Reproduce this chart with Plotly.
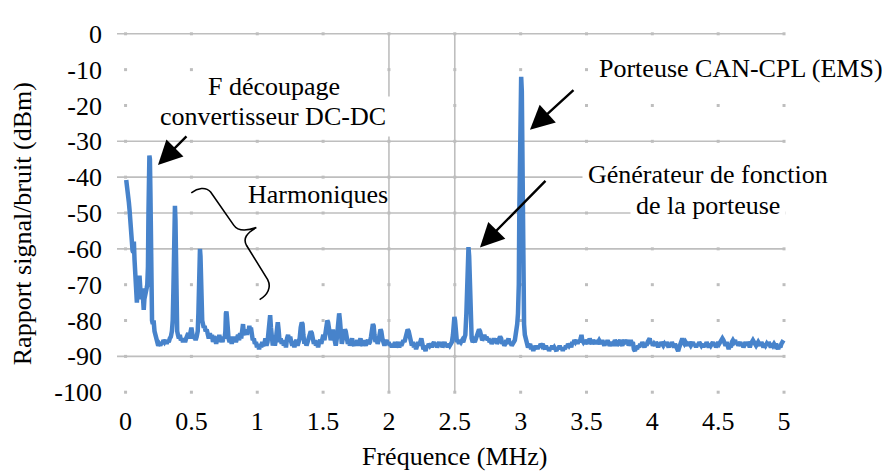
import plotly.graph_objects as go

# ---------------- data ----------------
# Spectrum: (frequency MHz, level dBm)
BAND_0_TO_1 = [
    (0.005, -40.8), (0.012, -42.5), (0.018, -45), (0.025, -47), (0.03, -49), (0.036, -53),
    (0.043, -58), (0.048, -57), (0.053, -60.5), (0.058, -61), (0.063, -58), (0.068, -63),
    (0.075, -68), (0.081, -70), (0.086, -75), (0.091, -71), (0.096, -68), (0.101, -70),
    (0.106, -67.5), (0.112, -72), (0.117, -74), (0.123, -73), (0.128, -71), (0.133, -74),
    (0.138, -77), (0.143, -74), (0.149, -72), (0.155, -72.5), (0.16, -71), (0.165, -70),
    (0.17, -65), (0.174, -50), (0.177, -36), (0.181, -34), (0.185, -35), (0.189, -45),
    (0.193, -62), (0.197, -75), (0.201, -80), (0.207, -81), (0.213, -80), (0.22, -83),
    (0.227, -84), (0.233, -85.5), (0.24, -86.5), (0.248, -87), (0.256, -86.5), (0.264, -87),
    (0.272, -86), (0.28, -86.5), (0.288, -85.5), (0.296, -86), (0.304, -85.5), (0.312, -86.5),
    (0.32, -85.5), (0.328, -86), (0.336, -85), (0.344, -84.5), (0.352, -83), (0.358, -80),
    (0.363, -72), (0.367, -58), (0.371, -49), (0.375, -48), (0.379, -52), (0.383, -66),
    (0.387, -78), (0.392, -83), (0.398, -84), (0.405, -85), (0.412, -84), (0.42, -85.5),
    (0.428, -85), (0.436, -86), (0.444, -85), (0.452, -86), (0.46, -85), (0.468, -84),
    (0.476, -83.5), (0.484, -85), (0.492, -83.5), (0.5, -82), (0.508, -84), (0.516, -85),
    (0.524, -84.5), (0.532, -85.5), (0.54, -84.5), (0.548, -83), (0.553, -78), (0.557, -68),
    (0.561, -61), (0.565, -60), (0.569, -62), (0.573, -70), (0.577, -78), (0.582, -80),
    (0.588, -81), (0.594, -82), (0.6, -81.5), (0.608, -83), (0.616, -82.5), (0.624, -84),
    (0.632, -85), (0.64, -83.5), (0.648, -85), (0.656, -84), (0.664, -86), (0.672, -84.5),
    (0.68, -85), (0.688, -86.5), (0.696, -84.5), (0.704, -85.5), (0.712, -84), (0.72, -86),
    (0.728, -85), (0.736, -86), (0.744, -84.5), (0.752, -85), (0.758, -83), (0.762, -78),
    (0.766, -77.5), (0.77, -79), (0.775, -84), (0.782, -85), (0.79, -86), (0.798, -84.5),
    (0.806, -86.5), (0.814, -85), (0.822, -86), (0.83, -84.5), (0.838, -86), (0.846, -85),
    (0.854, -84), (0.862, -85.5), (0.87, -83.5), (0.878, -85), (0.886, -82), (0.892, -81),
    (0.898, -83.5), (0.906, -84), (0.914, -82.5), (0.922, -84), (0.928, -82.5), (0.934, -83),
    (0.94, -81.5), (0.946, -83), (0.952, -82), (0.958, -84.5), (0.966, -85.5), (0.974, -85),
    (0.982, -86.5), (0.99, -86), (0.998, -87.5),
]

BAND_1_TO_2_5 = [
    (1.006, -86.5), (1.014, -88), (1.022, -86.5), (1.03, -87.5), (1.038, -86), (1.046, -87),
    (1.054, -86.5), (1.062, -85), (1.07, -87), (1.078, -86), (1.086, -83), (1.092, -78.5),
    (1.098, -78.5), (1.104, -82), (1.11, -86), (1.118, -87), (1.126, -85.5), (1.134, -87),
    (1.142, -85), (1.15, -81), (1.156, -80.5), (1.162, -82.5), (1.17, -86), (1.178, -85),
    (1.186, -86.5), (1.194, -85.5), (1.202, -87), (1.21, -86), (1.218, -87.5), (1.226, -85),
    (1.234, -84), (1.242, -85.5), (1.25, -84.5), (1.258, -86), (1.266, -87), (1.274, -86),
    (1.282, -87.5), (1.29, -86), (1.298, -85.5), (1.306, -87), (1.314, -86), (1.322, -85),
    (1.33, -82), (1.338, -80.5), (1.344, -81), (1.35, -84), (1.358, -86.5), (1.366, -85.5),
    (1.374, -87), (1.382, -86), (1.39, -85), (1.398, -84), (1.406, -83), (1.414, -83.5),
    (1.422, -85), (1.43, -86.5), (1.438, -85.5), (1.446, -87), (1.454, -86), (1.462, -87.5),
    (1.47, -86), (1.478, -85.5), (1.486, -86.5), (1.494, -85), (1.502, -84), (1.51, -85.5),
    (1.518, -83), (1.526, -81), (1.532, -80), (1.538, -80.5), (1.544, -82), (1.55, -84.5),
    (1.558, -85.5), (1.566, -84), (1.574, -82.5), (1.58, -84), (1.588, -86), (1.596, -87),
    (1.604, -85), (1.61, -82), (1.616, -78.5), (1.622, -78), (1.628, -80), (1.634, -84),
    (1.642, -86.5), (1.65, -85), (1.658, -84), (1.666, -82.5), (1.672, -83), (1.68, -85),
    (1.688, -86.5), (1.696, -85.5), (1.704, -87), (1.712, -86), (1.72, -85), (1.728, -86.5),
    (1.736, -87), (1.744, -86), (1.752, -86.5), (1.76, -85.5), (1.768, -87), (1.776, -86),
    (1.784, -85), (1.792, -86.5), (1.8, -87), (1.808, -85.5), (1.816, -86), (1.824, -87),
    (1.832, -86), (1.84, -85.5), (1.848, -86.5), (1.856, -86), (1.864, -84.5), (1.872, -83),
    (1.878, -81), (1.884, -81.5), (1.89, -84), (1.898, -86), (1.906, -85), (1.914, -86.5),
    (1.922, -85.5), (1.93, -84), (1.936, -82.5), (1.942, -83), (1.95, -85), (1.958, -86),
    (1.966, -87), (1.974, -86), (1.982, -85.5), (1.99, -86.5), (1.998, -86), (2.006, -87),
    (2.014, -86.5), (2.022, -87.5), (2.03, -86.5), (2.038, -87), (2.046, -86), (2.054, -87.5),
    (2.062, -87), (2.07, -86), (2.078, -87.5), (2.086, -86.5), (2.094, -87), (2.102, -86),
    (2.11, -85.5), (2.118, -86), (2.126, -85), (2.134, -84.5), (2.142, -82.5), (2.15, -83),
    (2.158, -85), (2.166, -86.5), (2.174, -87), (2.182, -86), (2.19, -87.5), (2.198, -86.5),
    (2.206, -88), (2.214, -87), (2.222, -86), (2.23, -87), (2.238, -85.5), (2.246, -85),
    (2.254, -86.5), (2.262, -88), (2.27, -87.5), (2.278, -88.5), (2.286, -87), (2.294, -87.5),
    (2.302, -86.5), (2.31, -87), (2.318, -86.5), (2.326, -87.5), (2.334, -86.5), (2.342, -86),
    (2.35, -87), (2.358, -86.5), (2.366, -87.5), (2.374, -86.5), (2.382, -86), (2.39, -87),
    (2.398, -86), (2.406, -87.5), (2.414, -86.5), (2.422, -86), (2.43, -87), (2.438, -86.5),
    (2.446, -87.5), (2.454, -86.5), (2.462, -87), (2.47, -86.5), (2.478, -86),
]

BAND_2_5_TO_3 = [
    (2.486, -84), (2.492, -80.5), (2.497, -79), (2.502, -80), (2.508, -84), (2.516, -86),
    (2.524, -85.5), (2.532, -86.5), (2.54, -85.5), (2.548, -86), (2.556, -85.5), (2.564, -86),
    (2.572, -85), (2.58, -84), (2.588, -78), (2.594, -66), (2.599, -60.5), (2.604, -59.5),
    (2.609, -62), (2.614, -71), (2.62, -82), (2.628, -85), (2.636, -86), (2.644, -85.5),
    (2.652, -86), (2.66, -85), (2.668, -84), (2.676, -83), (2.684, -82.5), (2.692, -83),
    (2.7, -84.5), (2.708, -85.5), (2.716, -85), (2.724, -84), (2.732, -85), (2.74, -84.5),
    (2.748, -85.5), (2.756, -85), (2.764, -86), (2.772, -85.5), (2.78, -86.5), (2.788, -86),
    (2.796, -85), (2.804, -86), (2.812, -85), (2.82, -86.5), (2.828, -86), (2.836, -85.5),
    (2.844, -84.5), (2.852, -85), (2.86, -86.5), (2.868, -86), (2.876, -87), (2.884, -86.5),
    (2.892, -85.5), (2.9, -86), (2.908, -85), (2.916, -86.5), (2.924, -86), (2.932, -87),
    (2.94, -86.5), (2.948, -86), (2.956, -85.5), (2.962, -84), (2.968, -83), (2.974, -81),
    (2.98, -78), (2.986, -70), (2.99, -50), (2.994, -25), (2.998, -13), (3.004, -12),
    (3.009, -16), (3.013, -35), (3.017, -60), (3.021, -75), (3.026, -81), (3.032, -84),
    (3.04, -85.5), (3.048, -86),
]

BAND_3_TO_5 = [
    (3.056, -87.5), (3.064, -87), (3.072, -86.5), (3.08, -88), (3.088, -87), (3.096, -88.5),
    (3.104, -87.5), (3.112, -88), (3.12, -87), (3.128, -88), (3.136, -87), (3.144, -87.5),
    (3.152, -86.5), (3.16, -87), (3.168, -86.5), (3.176, -87.5), (3.184, -88), (3.192, -87),
    (3.2, -88), (3.208, -87.5), (3.216, -88.5), (3.224, -87.5), (3.232, -88), (3.24, -87),
    (3.248, -88), (3.256, -87.5), (3.264, -88), (3.272, -88.5), (3.28, -87.5), (3.288, -88),
    (3.296, -87), (3.304, -88), (3.312, -87.5), (3.32, -88.5), (3.328, -87.5), (3.336, -88),
    (3.344, -87), (3.352, -87.5), (3.36, -86.5), (3.368, -87), (3.376, -86.5), (3.384, -87.5),
    (3.392, -86), (3.4, -86.5), (3.408, -85.5), (3.416, -86), (3.424, -85.5), (3.432, -86.5),
    (3.44, -85.5), (3.448, -86), (3.456, -85), (3.462, -84), (3.468, -85.5), (3.476, -86),
    (3.484, -85.5), (3.492, -86.5), (3.5, -86), (3.508, -85.5), (3.516, -86.5), (3.524, -85),
    (3.532, -86), (3.54, -86.5), (3.548, -85.5), (3.556, -86), (3.564, -86.5), (3.572, -85.5),
    (3.58, -86.5), (3.588, -86), (3.596, -85.5), (3.604, -86), (3.612, -86.5), (3.62, -85.5),
    (3.628, -86), (3.636, -87), (3.644, -86), (3.652, -86.5), (3.66, -85.5), (3.668, -86),
    (3.676, -87), (3.684, -86.5), (3.692, -86), (3.7, -87), (3.708, -86.5), (3.716, -85.5),
    (3.724, -86), (3.732, -87), (3.74, -86.5), (3.748, -86), (3.756, -85.5), (3.764, -86.5),
    (3.772, -87), (3.78, -86), (3.788, -85.5), (3.796, -86.5), (3.804, -86), (3.812, -85.5),
    (3.82, -87), (3.828, -86), (3.836, -85.5), (3.844, -86.5), (3.852, -86), (3.86, -88),
    (3.868, -88.5), (3.876, -87.5), (3.884, -88), (3.892, -87), (3.9, -87.5), (3.908, -86.5),
    (3.916, -87), (3.924, -86), (3.932, -86.5), (3.94, -87.5), (3.948, -86.5), (3.956, -87),
    (3.964, -86), (3.972, -85.5), (3.98, -85), (3.988, -86.5), (3.996, -86), (4.004, -87),
    (4.012, -86.5), (4.02, -87), (4.028, -86), (4.036, -86.5), (4.044, -87.5), (4.052, -86.5),
    (4.06, -87), (4.068, -86), (4.076, -86.5), (4.084, -87), (4.092, -86.5), (4.1, -87),
    (4.108, -86), (4.116, -86.5), (4.124, -87.5), (4.132, -86.5), (4.14, -87), (4.148, -86),
    (4.156, -87), (4.164, -87.5), (4.172, -86.5), (4.18, -87), (4.188, -88), (4.196, -88.5),
    (4.204, -87.5), (4.212, -86.5), (4.22, -85.5), (4.228, -85), (4.236, -86), (4.244, -86.5),
    (4.252, -86), (4.26, -86.5), (4.268, -87), (4.276, -86), (4.284, -86.5), (4.292, -87),
    (4.3, -86.5), (4.308, -86), (4.316, -87), (4.324, -86.5), (4.332, -87.5), (4.34, -86.5),
    (4.348, -87), (4.356, -86), (4.364, -86.5), (4.372, -87), (4.38, -86.5), (4.388, -87.5),
    (4.396, -86.5), (4.404, -87), (4.412, -86), (4.42, -86.5), (4.428, -87.5), (4.436, -86.5),
    (4.444, -87), (4.452, -86.5), (4.46, -86), (4.468, -87), (4.476, -86.5), (4.484, -87.5),
    (4.492, -86.5), (4.5, -86), (4.508, -86.5), (4.516, -86), (4.524, -85.5), (4.532, -85),
    (4.54, -85.5), (4.548, -86.5), (4.556, -87), (4.564, -86), (4.572, -87.5), (4.58, -88),
    (4.588, -87), (4.596, -87.5), (4.604, -86), (4.612, -85.5), (4.62, -86), (4.628, -85.5),
    (4.636, -86.5), (4.644, -86), (4.652, -87), (4.66, -86.5), (4.668, -86), (4.676, -87),
    (4.684, -86.5), (4.692, -87.5), (4.7, -86.5), (4.708, -86), (4.716, -87), (4.724, -86),
    (4.732, -86.5), (4.74, -87.5), (4.748, -86.5), (4.756, -86), (4.764, -85.5), (4.772, -86),
    (4.78, -86.5), (4.788, -87), (4.796, -86.5), (4.804, -86), (4.812, -86.5), (4.82, -87),
    (4.828, -86), (4.836, -86.5), (4.844, -87.5), (4.852, -86.5), (4.86, -87), (4.868, -86.5),
    (4.876, -87), (4.884, -86), (4.892, -86.5), (4.9, -87.5), (4.908, -86.5), (4.916, -87),
    (4.924, -86.5), (4.932, -87), (4.94, -86.5), (4.948, -87.5), (4.956, -88), (4.964, -87),
    (4.972, -87.5), (4.98, -86.5), (4.988, -86), (4.996, -85.5),
]

X_TICKS = [0, 0.5, 1, 1.5, 2, 2.5, 3, 3.5, 4, 4.5, 5]
X_LABELS = ["0", "0.5", "1", "1.5", "2", "2.5", "3", "3.5", "4", "4.5", "5"]
Y_TICKS = [0, -10, -20, -30, -40, -50, -60, -70, -80, -90, -100]
Y_LABELS = ["0", "-10", "-20", "-30", "-40", "-50", "-60", "-70", "-80", "-90", "-100"]
SOLID_Y_GRID = [0, -30, -40, -50, -60, -90]
SOLID_X_GRID = [2, 2.5]

X_TITLE = "Fréquence (MHz)"
Y_TITLE = "Rapport signal/bruit (dBm)"

FONT = "Liberation Serif"
FS = 26
LINE_COLOR = "#4783CB"
GRID_COLOR = "#BEBEBE"

# ---------------- figure ----------------
bands = [BAND_0_TO_1, BAND_1_TO_2_5, BAND_2_5_TO_3, BAND_3_TO_5]
freq = [p[0] for b in bands for p in b]
level = [p[1] for b in bands for p in b]

fig = go.Figure()

# grid intersection marks (Excel-like faint dotted grid)
gx = [x for x in X_TICKS for _ in Y_TICKS]
gy = [y for _ in X_TICKS for y in Y_TICKS]
fig.add_trace(go.Scatter(
    x=gx, y=gy, mode="markers", cliponaxis=False, hoverinfo="skip", showlegend=False,
    marker=dict(symbol="square", size=3, color=GRID_COLOR, line=dict(width=0)),
))

fig.add_trace(go.Scatter(
    x=freq, y=level, mode="lines", hoverinfo="skip", showlegend=False,
    line=dict(color=LINE_COLOR, width=4.5),
))

shapes = []
for yv in SOLID_Y_GRID:
    shapes.append(dict(type="line", xref="x", yref="y", x0=-0.065, x1=5, y0=yv, y1=yv,
                       line=dict(color=GRID_COLOR, width=1.6), layer="below"))
for xv in SOLID_X_GRID:
    shapes.append(dict(type="line", xref="x", yref="y", x0=xv, x1=xv, y0=-100, y1=0,
                       line=dict(color=GRID_COLOR, width=1.6), layer="below"))

# curly brace pointing at the harmonics
brace = ("M 0.499,-44.36 C 0.547,-43.09 0.608,-42.55 0.646,-44.17 "
         "L 0.821,-53.39 C 0.851,-55.01 0.919,-55.01 0.993,-54.07 "
         "C 0.919,-55.56 0.889,-57.18 0.919,-59.08 "
         "L 1.079,-68.56 C 1.109,-70.73 1.079,-72.9 1.018,-74.17")
shapes.append(dict(type="path", xref="x", yref="y", path=brace,
                   line=dict(color="black", width=1.6), layer="above"))

txt = dict(family=FONT, size=FS, color="black")
annotations = []


def label(text, x, y, bg=None):
    d = dict(text=text, x=x, y=y, xref="x", yref="y", showarrow=False,
             xanchor="center", yanchor="middle", font=txt, borderpad=5)
    if bg:
        d["bgcolor"] = bg
    annotations.append(d)


# second lines first so the first lines' glyphs stay on top
label("convertisseur DC-DC", 1.123, -23.1, "white")
label("F découpage", 1.127, -14.7, "white")
label("Harmoniques", 1.461, -44.7)
label("Porteuse CAN-CPL (EMS)", 4.673, -9.8, "white")
label("de la porteuse", 4.422, -48.0, "white")
label("Générateur de fonction", 4.422, -39.3, "white")

for hx, hy, ax, ay in [(0.246, -36.6, 30, -30), (3.071, -26.8, 45, -41), (2.691, -59.6, 67, -68)]:
    annotations.append(dict(x=hx, y=hy, xref="x", yref="y", ax=ax, ay=ay, text="",
                            showarrow=True, arrowhead=2, arrowsize=2.0, arrowwidth=2.4,
                            arrowcolor="black", standoff=0))

annotations.append(dict(text=X_TITLE, x=0.505, y=-0.172, xref="paper", yref="paper",
                        showarrow=False, xanchor="center", yanchor="middle", font=txt))
annotations.append(dict(text=Y_TITLE, x=-0.142, y=0.469, xref="paper", yref="paper",
                        showarrow=False, xanchor="center", yanchor="middle", textangle=-90,
                        font=txt))

# page body keeps an 8px default margin: figure sized to fit the 890x471 window
fig.update_layout(
    width=882, height=463,
    margin=dict(l=109, r=104, t=13, b=77),
    paper_bgcolor="white", plot_bgcolor="white",
    font=txt,
    shapes=shapes, annotations=annotations,
    xaxis=dict(range=[-0.065, 5.015], tickvals=X_TICKS, ticktext=X_LABELS,
               showgrid=False, zeroline=False, showline=False, ticks="",
               ticklabelstandoff=9, tickfont=txt),
    yaxis=dict(range=[-100.5, 0.5], tickvals=Y_TICKS, ticktext=Y_LABELS,
               showgrid=False, zeroline=False, showline=False, ticks="",
               ticklabelstandoff=14, tickfont=txt),
)

fig.write_html("out.html")
